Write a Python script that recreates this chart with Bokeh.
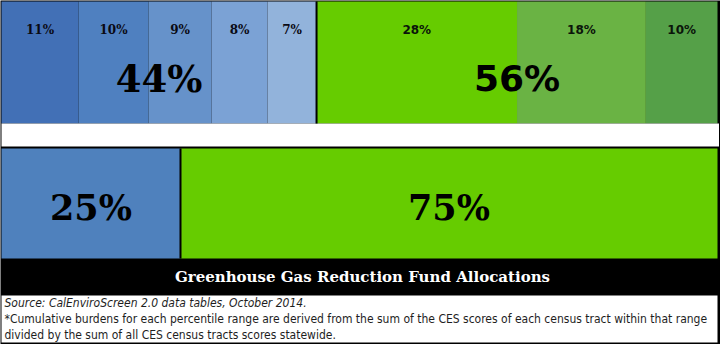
from bokeh.plotting import figure
from bokeh.models import Range1d, ColumnDataSource
from bokeh.core.properties import value
from bokeh.embed import file_html
from bokeh.resources import INLINE

# ---------------- data ----------------
group_labels = ["44%", "56%"]
group_values = [44, 56]
blue_labels = ["11%", "10%", "9%", "8%", "7%"]
blue_values = [11, 10, 9, 8, 7]
green_labels = ["28%", "18%", "10%"]
green_values = [28, 18, 10]
alloc_labels = ["25%", "75%"]
alloc_values = [25, 75]
title_text = "Greenhouse Gas Reduction Fund Allocations"
note_lines = [
    "Source: CalEnviroScreen 2.0 data tables, October 2014.",
    "*Cumulative burdens for each percentile range are derived from the sum of the CES scores of each census tract within that range",
    "divided by the sum of all CES census tracts scores statewide.",
]

# ---------------- styles ----------------
blue_colors = ["#4270B6", "#4F80C0", "#6692CA", "#7BA2D5", "#92B3DB"]
green_colors = ["#66CC00", "#6AB344", "#55A048"]
alloc_colors = ["#4F81BD", "#66CC00"]
SLAB = "DejaVu Serif"
SANS = "DejaVu Sans"
NARROW = "DejaVu Sans Condensed, Liberation Sans, sans-serif"

W, H = 720, 344
PX_PER_UNIT = 7.16  # 100 units -> 716 px
x0 = -1 / PX_PER_UNIT
x1 = (W - 1) / PX_PER_UNIT

p = figure(width=W, height=H, output_backend="svg", toolbar_location=None,
           x_range=Range1d(x0, x1), y_range=Range1d(H, 0),
           min_border=0, min_border_left=0, min_border_right=0,
           min_border_top=0, min_border_bottom=0)
p.axis.visible = False
p.grid.visible = False
p.outline_line_color = None
p.background_fill_color = "black"
p.border_fill_color = "black"

# rows (pixel rows in the y scale)
TOP_Y0, TOP_Y1 = 1, 123
GAP_Y0, GAP_Y1 = 123, 146
BOT_Y0, BOT_Y1 = 148, 258
NOTE_Y0, NOTE_Y1 = 295, 342


def stack(values, start, total):
    s = sum(values)
    widths = [v * total / s for v in values]
    lefts, rights = [], []
    c = start
    for w in widths:
        lefts.append(c)
        c += w
        rights.append(c)
    return lefts, rights


# top bar segments
bl, br = stack(blue_values, 0, group_values[0])
gl, gr = stack(green_values, group_values[0], group_values[1])
top_src = ColumnDataSource(dict(
    left=bl + gl, right=br + gr,
    color=blue_colors + green_colors,
    label=blue_labels + green_labels,
    xc=[(a + b) / 2 for a, b in zip(bl + gl, br + gr)],
))
p.quad(left="left", right="right", bottom=TOP_Y1, top=TOP_Y0, fill_color="color",
       line_color=None, source=top_src)

# white gap row
p.quad(left=x0 + 1 / PX_PER_UNIT, right=x1 - 1.5 / PX_PER_UNIT, bottom=GAP_Y1, top=GAP_Y0,
       fill_color="white", line_color=None)

# bottom bar
al, ar = stack(alloc_values, 0, 100)
bot_src = ColumnDataSource(dict(left=al, right=ar, color=alloc_colors, label=alloc_labels,
                                xc=[(a + b) / 2 for a, b in zip(al, ar)]))
p.quad(left="left", right="right", bottom=BOT_Y1, top=BOT_Y0, fill_color="color",
       line_color=None, source=bot_src)

# group separators
p.segment(x0=[group_values[0]], x1=[group_values[0]], y0=[TOP_Y0], y1=[TOP_Y1],
          line_color="black", line_width=2)
p.segment(x0=[alloc_values[0]], x1=[alloc_values[0]], y0=[BOT_Y0], y1=[BOT_Y1],
          line_color="black", line_width=2)

# footnote box
p.quad(left=x0 + 1 / PX_PER_UNIT, right=x1 - 3 / PX_PER_UNIT, bottom=NOTE_Y1, top=NOTE_Y0,
       fill_color="white", line_color=None)

# small percent labels
blue_src = ColumnDataSource(dict(x=top_src.data["xc"][:5], label=blue_labels))
green_src = ColumnDataSource(dict(x=top_src.data["xc"][5:], label=green_labels))
p.text(x="x", y=29, text="label", source=blue_src, text_font=value(SLAB),
       text_font_style="bold", text_font_size="12px", text_color="#0a0a14",
       text_align="center", text_baseline="middle")
p.text(x="x", y=29, text="label", source=green_src, text_font=value(SANS),
       text_font_style="bold", text_font_size="12px", text_color="#0a140a",
       text_align="center", text_baseline="middle")

# big group labels
p.text(x=[group_values[0] / 2], y=[78], text=[group_labels[0]], text_font=value(SLAB),
       text_font_style="bold", text_font_size="37px", text_color="black",
       text_align="center", text_baseline="middle")
p.text(x=[group_values[0] + group_values[1] / 2], y=[78], text=[group_labels[1]],
       text_font=value(SANS), text_font_style="bold", text_font_size="36px",
       text_color="black", text_align="center", text_baseline="middle")

# allocation labels
p.text(x="xc", y=207, text="label", source=bot_src, text_font=value(SLAB),
       text_font_style="bold", text_font_size="35px", text_color="black",
       text_align="center", text_baseline="middle")

# title in black band
p.text(x=[(362 - 1) / PX_PER_UNIT], y=[276], text=[title_text], text_font=value(SLAB),
       text_font_style="bold", text_font_size="15px", text_color="white",
       text_align="center", text_baseline="middle")

# footnotes
p.text(x=[3 / PX_PER_UNIT], y=[302], text=[note_lines[0]], text_font=value(NARROW),
       text_font_style="italic", text_font_size="12px", text_color="#1e1e1e",
       text_align="left", text_baseline="middle")
p.text(x=[3 / PX_PER_UNIT] * 2, y=[318, 334], text=note_lines[1:], text_font=value(NARROW),
       text_font_size="12px", text_color="#1e1e1e",
       text_align="left", text_baseline="middle")

open("out.html", "w").write(file_html(p, INLINE))
